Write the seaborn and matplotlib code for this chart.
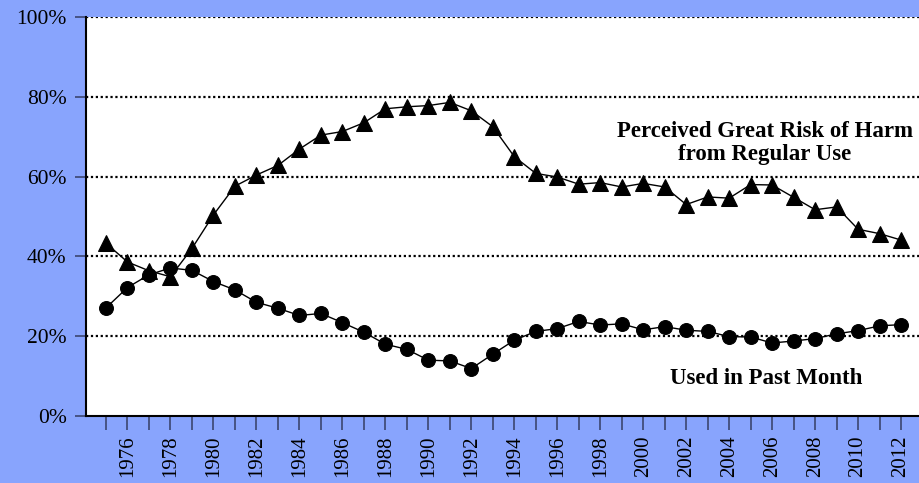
import matplotlib
matplotlib.use("Agg")
import matplotlib.pyplot as plt
import seaborn as sns
import pandas as pd
from matplotlib.ticker import FuncFormatter, MultipleLocator

sns.set_theme(style="white")
plt.rcParams['font.family'] = ['Liberation Serif', 'DejaVu Serif']

# data
years = list(range(1975, 2013))
risk = [43.3, 38.6, 36.4, 34.9, 42.0, 50.4, 57.6, 60.4, 62.8, 66.9,
        70.4, 71.3, 73.5, 77.0, 77.5, 77.8, 78.6, 76.5, 72.5, 65.0,
        60.8, 59.9, 58.1, 58.5, 57.4, 58.3, 57.4, 53.0, 54.9, 54.6,
        58.0, 57.9, 54.8, 51.7, 52.4, 46.8, 45.7, 44.1]
used = [27.1, 32.2, 35.4, 37.1, 36.5, 33.7, 31.6, 28.5, 27.0, 25.2,
        25.7, 23.4, 21.0, 18.0, 16.7, 14.0, 13.8, 11.9, 15.5, 19.0,
        21.2, 21.9, 23.7, 22.8, 23.1, 21.6, 22.4, 21.5, 21.2, 19.9,
        19.8, 18.3, 18.8, 19.4, 20.6, 21.4, 22.6, 22.9]
risk_label = "Perceived Great Risk of Harm\nfrom Regular Use"
used_label = "Used in Past Month"

df = pd.DataFrame({"year": years, "risk": risk, "used": used})

bg = "#88a4fd"
tick_col = "#3c4670"
fig = plt.figure(figsize=(9.2, 4.83), dpi=100, facecolor=bg)
ax = fig.add_axes([0.0935, 0.1387, 0.9065, 0.8261])
ax.set_facecolor("white")

sns.lineplot(data=df, x="year", y="risk", marker="^", markersize=11, color="black",
             linewidth=1, markeredgecolor="black", ax=ax)
sns.lineplot(data=df, x="year", y="used", marker="o", markersize=10, color="black",
             linewidth=1, markeredgecolor="black", ax=ax)

ax.set_xlim(1974.07, 2012.88)
ax.set_ylim(0, 100)

for y in [20, 40, 60, 80, 100]:
    ax.axhline(y, color="black", linestyle=(0, (1, 1.2)), linewidth=1.6, zorder=0)

ax.yaxis.set_major_locator(MultipleLocator(20))
ax.yaxis.set_major_formatter(FuncFormatter(lambda v, p: f"{v:.0f}%"))
ax.set_xticks(years)
ax.set_xticklabels([str(y) if y % 2 == 0 else "" for y in years], rotation=90)
ax.tick_params(axis="y", direction="out", length=8, width=1.2, color=tick_col,
               labelsize=15.5, labelcolor="black", left=True, pad=6)
ax.tick_params(axis="x", direction="out", length=10, width=1.2, color=tick_col,
               labelsize=15, labelcolor="black", bottom=True, pad=4)

for s in ["top", "right"]:
    ax.spines[s].set_visible(False)
for s in ["left", "bottom"]:
    ax.spines[s].set_color("black")
    ax.spines[s].set_linewidth(1.5)

ax.set_xlabel("")
ax.set_ylabel("")

ax.text(2005.65, 68.4, risk_label, ha="center", va="center", fontsize=16.5,
        fontweight="bold", color="black", linespacing=1.15)
ax.text(2005.7, 9.3, used_label, ha="center", va="center", fontsize=16.5,
        fontweight="bold", color="black")

fig.savefig("out.png", dpi=100, facecolor=bg)
